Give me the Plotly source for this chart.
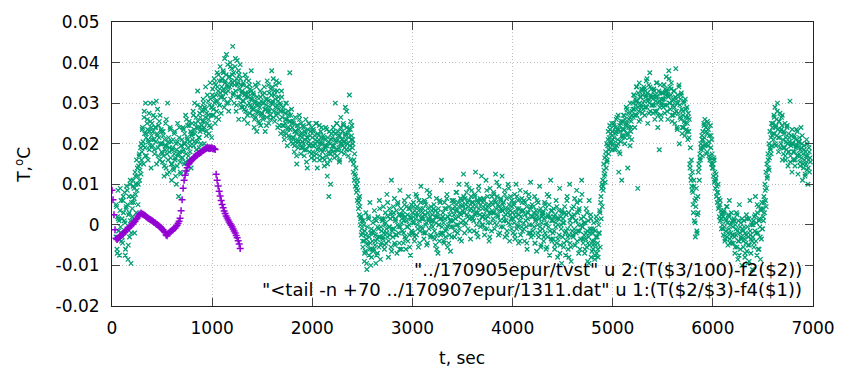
import plotly.graph_objects as go

# ---------------- data ----------------
# Purple series: "../170905epur/tvst" , sampled every 10 s from t=0 ; T in units of 1e-4 degC
purple_t_start = 0
purple_dt = 10
purple_T_e4 = [
    85, 62, 25, -12, -33, -36, -33, -32, -28, -27,
    -23, -22, -18, -17, -13, -12, -8, -7, -3, -2,
    2, 3, 7, 9, 13, 16, 21, 24, 27, 29,
    27, 26, 24, 23, 20, 19, 16, 15, 13, 12,
    10, 9, 6, 5, 2, 1, -1, -3, -5, -7,
    -10, -12, -16, -19, -25, -27, -22, -20, -17, -16,
    -13, -12, -9, -8, -4, -1, 4, 9, 16, 35,
    62, 90, 110, 122, 133, 141, 148, 151, 156, 158,
    161, 163, 166, 168, 171, 172, 175, 176, 178, 179,
    182, 183, 185, 187, 189, 191, 189, 190, 188, 190,
    189, 187, 188, 186, 125, 110, 96, 83, 71, 60,
    50, 42, 34, 28, 22, 17, 12, 7, 3, -1,
    -5, -10, -15, -20, -26, -32, -39, -47, -58,
]

# Green series: "<tail -n +70 ../170907epur/1311.dat"; one row per 100 s window.
# Set A: every 5 s (first row ends at t=95, starts at t=40). T in units of 1e-4 degC
green_a_dt = 5
green_a_offset = 0
green_rows_a = [
    [-30, 45, -60, 20, 85, -15, 10, -75, 35, -5, 60, -40],
    [15, -45, 60, 30, -20, 80, 5, -60, 40, 95, -10, 50, -85, 25, 70, -30, 100, 10, -95, 55],
    [70, 20, 110, 55, 90, -20, 130, 75, 100, 160, 85, 120, 50, 145, 170, 110, 135, 190, 125, 160],
    [180, 240, 205, 150, 265, 225, 190, 300, 215, 170, 250, 235, 160, 205, 275, 230, 195, 255, 140, 220],
    [250, 195, 230, 300, 210, 175, 265, 240, 205, 150, 225, 285, 190, 245, 215, 160, 270, 200, 235, 180],
    [200, 155, 230, 170, 120, 210, 185, 250, 140, 195, 175, 300, 160, 215, 130, 190, 240, 165, 205, 110],
    [150, 190, 210, 135, 175, 230, 160, 120, 200, 185, 145, 250, 170, 70, 215, 180, 155, 125, 195, 165],
    [210, 165, 240, 185, 150, 225, 200, 270, 175, 130, 215, 245, 190, 160, 255, 205, 180, 230, 140, 220],
    [250, 210, 280, 195, 235, 300, 225, 170, 265, 240, 205, 330, 255, 215, 190, 275, 230, 290, 200, 245],
    [280, 235, 310, 255, 200, 290, 265, 340, 230, 275, 250, 185, 305, 260, 225, 295, 350, 240, 270, 215],
    [290, 335, 270, 315, 360, 300, 250, 345, 320, 280, 375, 305, 330, 260, 355, 295, 390, 315, 275, 340],
    [360, 315, 380, 335, 290, 410, 350, 325, 370, 300, 345, 395, 330, 280, 365, 340, 400, 310, 355, 385],
    [350, 440, 320, 375, 300, 345, 390, 330, 280, 360, 405, 315, 350, 260, 370, 335, 395, 300, 345, 325],
    [330, 290, 345, 305, 260, 320, 370, 280, 315, 340, 295, 250, 325, 355, 300, 275, 335, 310, 380, 290],
    [310, 270, 325, 285, 240, 300, 345, 265, 295, 230, 315, 280, 350, 255, 300, 290, 330, 245, 305, 275],
    [275, 320, 260, 300, 340, 285, 230, 310, 295, 265, 355, 280, 305, 250, 325, 290, 270, 335, 300, 380],
    [340, 300, 360, 280, 320, 255, 310, 345, 270, 295, 330, 240, 305, 285, 350, 260, 300, 225, 280, 315],
    [265, 230, 290, 245, 210, 275, 250, 300, 225, 260, 195, 240, 280, 220, 255, 375, 235, 270, 205, 250],
    [240, 200, 255, 215, 180, 230, 265, 205, 225, 150, 245, 210, 190, 235, 270, 200, 220, 175, 250, 215],
    [225, 190, 245, 200, 170, 230, 210, 260, 185, 215, 140, 235, 205, 195, 250, 180, 220, 200, 165, 240],
    [215, 180, 235, 195, 160, 220, 200, 250, 175, 205, 140, 225, 190, 210, 245, 170, 200, 230, 185, 215],
    [200, 165, 220, 185, 145, 210, 190, 240, 170, 195, 120, 215, 180, 70, 230, 160, 200, 175, 225, 185],
    [215, 180, 240, 195, 165, 225, 300, 205, 185, 250, 170, 210, 230, 190, 155, 220, 200, 265, 180, 210],
    [230, 195, 250, 205, 175, 220, 290, 210, 185, 240, 200, 225, 170, 215, 320, 195, 235, 160, 210, 245],
    [190, 200, 130, 160, 110, 125, 95, 140, 80, 100, 60, 85, 40, 65, 25, 45, 0, 20, -25, 10],
    [-20, -55, 10, -40, -90, -15, -65, 30, -35, -110, -5, -50, 20, -75, -30, 55, -45, -100, -10, -60],
    [-40, 5, -65, -15, 35, -50, -25, -95, 10, -35, -70, 20, -10, -55, 60, -30, -85, -5, -45, 15],
    [10, -35, 45, -20, -60, 0, 30, -45, -10, 75, -30, 20, -80, -5, 40, -25, 15, -55, 110, -15],
    [20, -30, 45, -10, 65, -50, 10, -25, 35, -70, 0, 55, -20, 25, -45, 85, -5, 40, -60, 15],
    [-15, 35, -45, 10, 60, -30, 20, -60, 45, -5, 25, -40, 70, 0, -25, 40, -75, 15, 50, -20],
    [30, -20, 55, 5, -40, 35, 15, 75, -25, 45, 0, 25, -55, 60, 10, -15, 40, 95, -5, 20],
    [-10, 40, 15, -35, 60, 25, -20, 50, 5, 85, -45, 30, 10, -10, 70, 20, -30, 45, 0, 35],
    [25, -30, 10, 50, -15, 35, -50, 5, 65, -25, 20, -70, 40, 0, -40, 55, 15, -20, 110, -5],
    [-20, 30, 5, -45, 55, 15, -30, 40, -10, 75, -55, 20, 0, 45, -25, 10, -65, 35, -5, 60],
    [40, -5, 60, 25, -30, 45, 15, 80, 0, 35, -20, 55, 20, 100, -10, 30, 65, 5, -40, 45],
    [50, 10, 125, 30, -20, 65, 40, 5, 80, 25, 55, -10, 45, 90, 15, 35, -35, 70, 20, 55],
    [15, 55, 35, -15, 75, 25, 130, 45, 0, 60, 30, -30, 85, 40, 10, 65, -5, 50, 120, 20],
    [40, 0, 65, 25, -25, 50, 15, 110, 35, -10, 70, 20, 45, -40, 30, 90, 5, 55, -15, 35],
    [50, 15, 80, 30, -10, 60, 125, 40, 0, 70, 25, 50, -25, 95, 35, 10, 60, -5, 40, 120],
    [35, -5, 55, 20, 85, -30, 40, 10, 65, -15, 30, 100, 5, 50, -40, 25, 70, 15, -10, 45],
    [30, -20, 50, 5, 75, -35, 20, 100, -10, 40, 0, 60, -45, 25, 10, 85, -25, 35, -5, 55],
    [-15, 35, 5, 60, -40, 25, 80, -5, 45, -60, 15, 30, -20, 65, 0, 40, 105, -30, 20, 50],
    [20, -25, 45, -5, 70, -45, 10, 35, -65, 25, 0, 55, -30, 15, 95, -15, 40, -50, 5, 30],
    [-10, 30, -40, 15, 55, -20, 40, -60, 5, 75, -30, 25, -5, 50, -75, 20, 110, -35, 10, 35],
    [10, -35, 40, -15, -60, 25, -5, 60, -45, 15, -80, 0, 35, -25, 90, -50, 20, -10, -95, 30],
    [-30, 15, -55, 5, 45, -20, -75, 25, -40, 70, -10, -60, 30, -25, 100, -45, 0, -90, 20, -15],
    [20, -30, 45, -10, 65, -50, 10, -20, 85, -40, 30, 0, -70, 40, -15, 60, -35, 15, 110, -5],
    [-5, -45, 20, -25, -70, 5, -35, 40, -55, -15, -90, 10, -30, 60, -50, -20, 25, -80, -10, -40],
    [-20, -60, 5, -40, -85, -15, -50, 20, -70, -30, -45, -80, 0, -20, 35, -55, 55, 15, 90, 45],
    [110, 85, 150, 120, 165, 105, 180, 140, 200, 160, 195, 230, 175, 215, 245, 190, 225, 205, 250, 185],
    [230, 200, 250, 215, 185, 240, 225, 260, 195, 235, 210, 270, 130, 180, 245, 230, 205, 255, 110, 215],
    [255, 220, 270, 235, 200, 260, 245, 290, 225, 250, 140, 275, 240, 215, 265, 300, 230, 255, 210, 270],
    [300, 265, 320, 285, 240, 310, 295, 340, 270, 305, 90, 325, 280, 350, 300, 260, 315, 290, 335, 275],
    [320, 285, 340, 305, 270, 330, 315, 355, 290, 325, 250, 310, 345, 300, 375, 280, 320, 335, 295, 315],
    [310, 275, 335, 295, 260, 320, 305, 350, 280, 315, 240, 300, 330, 185, 290, 345, 270, 310, 325, 295],
    [325, 290, 345, 310, 275, 335, 320, 365, 295, 330, 260, 315, 380, 300, 340, 285, 320, 350, 270, 305],
    [310, 270, 330, 290, 250, 315, 385, 280, 300, 235, 320, 275, 340, 200, 295, 310, 260, 325, 285, 240],
    [280, 240, 300, 255, 220, 310, 265, 235, 290, 250, 210, 275, 230, 260, 150, 190, 120, 160, 95, 130],
    [80, 30, 110, 10, 60, -30, 45, 90, -15, 25, 70, 130, 150, 110, 175, 160, 200, 185, 220, 170],
    [230, 190, 250, 215, 260, 200, 240, 175, 225, 255, 195, 235, 170, 220, 160, 245, 190, 150, 210, 140],
    [150, 120, 165, 105, 130, 90, 115, 70, 95, 55, 80, 40, 65, 20, 50, 10, 35, -10, 25, 0],
    [20, -25, 35, -5, -40, 15, -15, 45, -30, 5, -50, 25, -10, 60, -35, 0, -20, 30, -45, 10],
    [-5, -45, 15, -30, -70, 0, -25, 30, -55, -15, -85, 10, -40, 50, -20, -60, 5, -35, -100, -10],
    [-15, -55, 10, -35, -80, -20, -45, 25, -65, -5, -95, -30, 15, -50, 60, -25, -70, 0, -40, -110],
    [-30, 10, -55, 20, -15, 70, -40, 5, -75, 30, -20, 45, -60, 15, -5, -85, 35, -35, 55, -10],
    [40, 10, 70, 30, 100, 60, 130, 90, 150, 120, 175, 140, 200, 165, 230, 185, 215, 250, 195, 240],
    [250, 210, 270, 225, 290, 240, 195, 260, 220, 300, 235, 180, 255, 215, 275, 230, 200, 265, 245, 160],
    [210, 175, 230, 190, 250, 160, 215, 185, 240, 200, 145, 225, 180, 205, 305, 170, 195, 220, 130, 200],
    [200, 160, 220, 180, 145, 210, 190, 235, 170, 195, 125, 205, 175, 215, 155, 185, 240, 165, 200, 110],
    [175, 140, 195, 160, 120, 180, 150, 210, 135, 170, 100, 160, 190, 130, 165],
]
# Set B: every 10 s, shifted by 2.5 s (first row ends at t=92.5)
green_b_dt = 10
green_b_offset = 2.5
green_rows_b = [
    [50, -70, 15, -35, 90, -20],
    [-30, 70, 10, -75, 45, 85, -50, 30, 110, -20],
    [40, 95, 65, 120, 30, 140, 100, 175, 150, 200],
    [235, 195, 280, 170, 225, 260, 210, 185, 300, 240],
    [210, 270, 185, 240, 305, 220, 170, 255, 200, 230],
    [175, 220, 145, 195, 260, 125, 205, 180, 235, 150],
    [185, 140, 225, 165, 100, 205, 175, 240, 130, 195],
    [180, 235, 200, 155, 260, 210, 170, 245, 195, 225],
    [225, 270, 205, 250, 185, 295, 240, 215, 265, 235],
    [255, 300, 240, 285, 220, 320, 270, 245, 310, 290],
    [320, 285, 350, 305, 265, 340, 370, 295, 325, 355],
    [330, 375, 310, 355, 420, 340, 300, 365, 390, 345],
    [370, 325, 355, 410, 295, 345, 380, 315, 360, 290],
    [305, 350, 285, 325, 360, 270, 315, 345, 295, 330],
    [285, 320, 260, 305, 340, 275, 295, 250, 315, 270],
    [300, 265, 325, 285, 245, 310, 345, 280, 260, 320],
    [305, 265, 330, 290, 355, 275, 315, 245, 295, 330],
    [245, 280, 220, 260, 300, 235, 270, 215, 255, 285],
    [215, 250, 195, 230, 170, 245, 205, 260, 225, 190],
    [205, 240, 185, 225, 155, 215, 250, 195, 230, 175],
    [195, 230, 170, 210, 250, 185, 220, 160, 205, 240],
    [180, 215, 160, 195, 235, 150, 205, 175, 100, 210],
    [195, 230, 175, 210, 250, 185, 220, 160, 240, 200],
    [210, 245, 190, 225, 280, 200, 235, 185, 255, 220],
    [210, 150, 175, 120, 90, 110, 55, 70, 15, -10],
    [-40, 0, -70, -25, -95, -45, 15, -60, -20, -80],
    [-20, -60, 15, -40, -75, -5, -30, 40, -50, -15],
    [-30, 15, -50, 5, -20, 55, -40, -5, 30, -65],
    [-10, 30, -45, 15, -25, 50, -5, -60, 25, 5],
    [25, -20, 50, -35, 10, -5, 40, -55, 20, -15],
    [5, 45, -30, 25, 70, -10, 35, -45, 55, 15],
    [30, -20, 55, 0, -50, 40, 15, 80, -25, 10],
    [-5, 40, -35, 20, -60, 30, 0, 60, -25, 15],
    [20, -40, 40, -15, 65, -5, -45, 25, 10, -30],
    [10, 55, -15, 35, 80, 0, 45, -35, 25, 60],
    [35, 70, 0, 50, 100, 20, 60, -15, 40, 85],
    [45, 10, 70, 30, -20, 55, 95, 25, 60, 0],
    [20, 60, -10, 40, 85, 5, 50, -30, 30, 70],
    [30, 75, 5, 55, 105, 20, 45, -20, 65, 35],
    [50, 10, 75, 25, -25, 40, 90, 0, 35, 60],
    [15, 55, -25, 30, 70, -5, 40, -40, 20, 65],
    [35, -10, 55, 10, -45, 30, 75, -20, 45, 0],
    [-15, 30, -45, 15, 60, -20, 35, -5, -55, 20],
    [25, -30, 50, 0, -55, 20, 70, -15, 35, -40],
    [-20, 20, -50, 5, 45, -35, 15, -70, 0, 35],
    [5, -45, 30, -15, 60, -30, -80, 10, -55, 40],
    [-25, 25, -50, 10, 55, -15, 35, -60, 0, 75],
    [-35, 5, -60, -20, 30, -45, -95, -10, 15, -65],
    [-50, -10, -75, -30, 10, -60, -20, 30, 70, 100],
    [95, 135, 125, 170, 155, 210, 185, 235, 200, 220],
    [210, 245, 190, 230, 265, 200, 235, 175, 250, 220],
    [235, 270, 215, 250, 285, 225, 260, 195, 240, 280],
    [285, 320, 270, 305, 340, 290, 255, 315, 295, 330],
    [300, 335, 290, 320, 360, 305, 275, 340, 315, 295],
    [295, 330, 280, 315, 350, 270, 305, 325, 260, 300],
    [310, 345, 295, 330, 280, 320, 360, 300, 335, 255],
    [295, 330, 275, 310, 240, 300, 345, 265, 320, 225],
    [270, 305, 250, 285, 230, 265, 215, 140, 110, 85],
    [50, 95, 5, 65, -20, 30, 140, 165, 190, 210],
    [210, 245, 195, 230, 180, 250, 205, 165, 220, 175],
    [140, 160, 110, 125, 80, 100, 45, 60, 15, 30],
    [-10, 30, -35, 10, 45, -20, 20, -45, 5, -25],
    [-25, 10, -55, -10, 25, -40, -75, -5, -30, 15],
    [-40, -5, -70, -25, 15, -50, -90, -15, -35, 5],
    [0, -45, 25, -20, 50, -60, 10, -30, 40, -10],
    [20, 55, 85, 45, 115, 160, 135, 190, 175, 220],
    [225, 265, 200, 245, 280, 215, 255, 190, 235, 270],
    [190, 225, 170, 205, 245, 180, 215, 155, 200, 235],
    [180, 215, 160, 195, 230, 170, 205, 145, 190, 220],
    [150, 185, 125, 170, 200, 140, 180, 155],
]
row_span = 100

x_ticks = [0, 1000, 2000, 3000, 4000, 5000, 6000, 7000]
y_ticks = [-0.02, -0.01, 0, 0.01, 0.02, 0.03, 0.04, 0.05]
y_tick_text = ["-0.02", "-0.01", "0", "0.01", "0.02", "0.03", "0.04", "0.05"]
legend_labels = [
    '"../170905epur/tvst" u 2:(T($3/100)-f2($2))',
    '"<tail -n +70 ../170907epur/1311.dat" u 1:(T($2/$3)-f4($1))',
]

# ---------------- build series ----------------
green_t, green_T = [], []
for rows, dt, off in ((green_rows_a, green_a_dt, green_a_offset),
                      (green_rows_b, green_b_dt, green_b_offset)):
    for k, row in enumerate(rows):
        start = row_span - dt * len(row) if k == 0 else row_span * k
        for j, v in enumerate(row):
            green_t.append(start + off + dt * j)
            green_T.append(v * 1e-4)

purple_t = [purple_t_start + purple_dt * i for i in range(len(purple_T_e4))]
purple_T = [v * 1e-4 for v in purple_T_e4]

GREEN = "#009e73"
PURPLE = "#9400d3"
FONT = "DejaVu Sans"

fig = go.Figure()
fig.add_trace(go.Scatter(
    x=green_t, y=green_T, mode="markers", name=legend_labels[1],
    marker=dict(symbol="x-thin-open", size=4.5, color=GREEN, line=dict(color=GREEN, width=1.25)),
))
fig.add_trace(go.Scatter(
    x=purple_t, y=purple_T, mode="markers", name=legend_labels[0],
    marker=dict(symbol="cross-thin-open", size=5, color=PURPLE, line=dict(color=PURPLE, width=1.5)),
))

axis_common = dict(
    showline=True, linecolor="#222222", linewidth=1, mirror="ticks",
    ticks="inside", ticklen=8, tickcolor="#444444", tickwidth=1,
    showgrid=True, gridcolor="#bdbdbd", griddash="1px,2.4px", gridwidth=1,
    zeroline=False, tickfont=dict(family=FONT, size=17, color="black"),
)

fig.update_layout(
    width=847, height=367,
    margin=dict(l=112, r=30, t=19, b=61),
    paper_bgcolor="white", plot_bgcolor="white",
    showlegend=False,
    font=dict(family=FONT, size=17, color="black"),
    xaxis=dict(range=[0, 7000], tickvals=x_ticks, ticktext=[str(v) for v in x_ticks],
               ticklabelstandoff=7, **axis_common),
    yaxis=dict(range=[-0.02, 0.05], tickvals=y_ticks, ticktext=y_tick_text,
               ticklabelstandoff=8, **axis_common),
)

annotations = [
    dict(text=legend_labels[0], x=0.987, y=0.129, xref="paper", yref="paper",
         xanchor="right", yanchor="middle", showarrow=False,
         font=dict(family=FONT, size=18, color="black")),
    dict(text=legend_labels[1], x=0.987, y=0.059, xref="paper", yref="paper",
         xanchor="right", yanchor="middle", showarrow=False,
         font=dict(family=FONT, size=18, color="black")),
    dict(text="T,<sup>o</sup>C", x=-0.128, y=0.498, xref="paper", yref="paper",
         xanchor="center", yanchor="middle", textangle=-90, showarrow=False,
         font=dict(family=FONT, size=17, color="black")),
    dict(text="t, sec", x=0.499, y=-0.182, xref="paper", yref="paper",
         xanchor="center", yanchor="middle", showarrow=False,
         font=dict(family=FONT, size=17, color="black")),
]
fig.update_layout(annotations=annotations)

fig.write_html("out.html")
